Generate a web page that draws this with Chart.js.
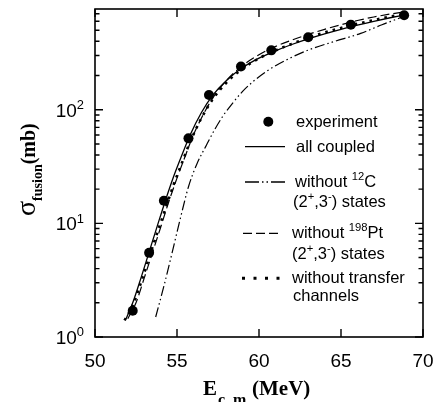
<!DOCTYPE html>
<html>
<head>
<meta charset="utf-8">
<script src="https://cdn.jsdelivr.net/npm/chart.js@4/dist/chart.umd.min.js"></script>
<style>
  html, body { margin: 0; padding: 0; background: #fff; }
  #grafico { display: block; }
</style>
</head>
<body>
<canvas id="grafico" width="438" height="402"></canvas>
<script>
// datos

// experimento
const energiaExp = [52.3, 53.3, 54.2, 55.7, 56.95, 58.9, 60.75, 63.0, 65.6, 68.85]
const sigmaExp = [1.7, 5.5, 15.8, 56, 135, 240, 333, 434, 561, 678]

// all coupled (linea continua)
const energiaTodo = [51.9, 52.3, 52.8, 53.3, 53.8, 54.3, 54.8, 55.3, 55.8, 56.5, 57.2, 58, 59, 60, 61, 62, 63, 64, 65, 66, 67, 68, 69]
const sigmaTodo = [1.45, 2.0, 3.3, 5.6, 9.5, 16, 26, 40, 60, 95, 135, 180, 235, 285, 330, 375, 420, 465, 510, 555, 600, 645, 690]

// without 12C (raya-punto-punto)
const energiaSinC = [53.7, 54.2, 54.7, 55.2, 55.7, 56.2, 56.8, 57.3, 57.8, 58.3, 59.0, 59.6, 60.5, 61.9, 63.0, 64.5, 66.2, 67.5, 68.5, 69]
const sigmaSinC = [1.5, 2.8, 5.5, 11, 21, 33, 49, 67, 88, 110, 145, 175, 220, 285, 335, 395, 470, 560, 635, 680]

// without 198Pt (rayas)
const energiaSinPt = [52.0, 52.5, 53.0, 53.5, 54.0, 54.5, 55, 55.5, 56, 56.5, 57.2, 58, 59, 60, 61, 62, 63, 64, 65, 66, 67, 68, 69]
const sigmaSinPt = [1.45, 2.0, 3.3, 5.5, 9.2, 15.5, 25, 39, 60, 85, 128, 180, 245, 305, 360, 410, 460, 510, 560, 610, 655, 695, 730]

// without transfer (puntos)
const energiaSinTr = [51.8, 52.3, 52.8, 53.3, 53.8, 54.3, 54.8, 55.3, 55.8, 56.5, 57.2, 58, 59, 60, 61, 62, 63, 64, 65, 66, 67, 68, 69]
const sigmaSinTr = [1.4, 1.9, 3.0, 5.0, 8.3, 13.5, 22, 34, 52, 85, 125, 172, 230, 283, 332, 380, 430, 478, 525, 570, 615, 660, 700]

// ejes
const ticksX = [50, 55, 60, 65, 70]
const ticksYMayor = [1, 10, 100]
const expoY = ['0', '1', '2']
const ticksYMenor = [2, 3, 4, 5, 6, 7, 8, 9, 20, 30, 40, 50, 60, 70, 80, 90, 200, 300, 400, 500, 600, 700]

const SANS = '"Liberation Sans", Arial, Helvetica, sans-serif'
const SERIF = '"Liberation Serif", "Times New Roman", serif'

const puntos = (xs, ys) => xs.map((x, i) => ({ x: x, y: ys[i] }))

const DASH_C = [10, 3, 1.5, 3, 1.5, 3]
const DASH_PT = [9, 4]
const DASH_TR = [2.6, 5]

// texto con super/subindices: partes = [[texto, 'n'|'sup'|'sub'], ...]
function textoRico(ctx, x, y, partes, size, familia, peso) {
  peso = peso || ''
  for (let p of partes) {
    let s = p[1] === 'n' ? size : size * 0.68
    let dy = p[1] === 'sup' ? -size * 0.4 : (p[1] === 'sub' ? size * 0.32 : 0)
    ctx.font = `${peso} ${s}px ${familia}`
    ctx.fillText(p[0], x, y + dy)
    x += ctx.measureText(p[0]).width
  }
  return x
}

function anchoRico(ctx, partes, size, familia) {
  let w = 0
  for (let p of partes) {
    let s = p[1] === 'n' ? size : size * 0.68
    ctx.font = `${s}px ${familia}`
    w += ctx.measureText(p[0]).width
  }
  return w
}

const dibujoEjes = {
  id: 'dibujoEjes',
  afterDraw(chart) {
    const ctx = chart.ctx
    const a = chart.chartArea
    const sx = chart.scales.x
    const sy = chart.scales.y
    ctx.save()
    ctx.strokeStyle = '#000'
    ctx.fillStyle = '#000'

    // marco
    ctx.lineWidth = 1.6
    ctx.setLineDash([])
    ctx.strokeRect(a.left, a.top, a.right - a.left, a.bottom - a.top)

    // ticks hacia dentro
    ctx.lineWidth = 1.4
    ctx.beginPath()
    for (let v of ticksX) {
      let px = sx.getPixelForValue(v)
      ctx.moveTo(px, a.bottom); ctx.lineTo(px, a.bottom - 8)
      ctx.moveTo(px, a.top); ctx.lineTo(px, a.top + 8)
    }
    for (let v of ticksYMayor) {
      let py = sy.getPixelForValue(v)
      ctx.moveTo(a.left, py); ctx.lineTo(a.left + 8, py)
      ctx.moveTo(a.right, py); ctx.lineTo(a.right - 8, py)
    }
    for (let v of ticksYMenor) {
      let py = sy.getPixelForValue(v)
      ctx.moveTo(a.left, py); ctx.lineTo(a.left + 4.5, py)
      ctx.moveTo(a.right, py); ctx.lineTo(a.right - 4.5, py)
    }
    ctx.stroke()

    // etiquetas eje x
    ctx.textBaseline = 'alphabetic'
    ctx.textAlign = 'center'
    ctx.font = `19px ${SANS}`
    for (let v of ticksX) {
      ctx.fillText(String(v), sx.getPixelForValue(v), 367)
    }

    // etiquetas eje y (10^n)
    ctx.textAlign = 'left'
    ticksYMayor.forEach((v, i) => {
      let py = sy.getPixelForValue(v)
      let partes = [['10', 'n'], [expoY[i], 'sup']]
      let w = anchoRico(ctx, partes, 19, SANS)
      textoRico(ctx, 84 - w, py + 7, partes, 19, SANS)
    })

    // titulo eje x
    ctx.textAlign = 'left'
    let xt = textoRico(ctx, 203, 395, [['E', 'n']], 21, SERIF, 'bold')
    ctx.font = `bold 16px ${SERIF}`
    ctx.fillText('c. m', xt + 1, 405)
    textoRico(ctx, 252, 395, [['(MeV)', 'n']], 21, SERIF, 'bold')

    // titulo eje y (girado)
    ctx.save()
    ctx.translate(35, 216)
    ctx.rotate(-Math.PI / 2)
    ctx.textAlign = 'left'
    ctx.font = `28px ${SERIF}`
    ctx.fillText('σ', 0, 0)
    let xs = ctx.measureText('σ').width
    ctx.font = `bold 14px ${SERIF}`
    ctx.fillText('fusion', xs, 7)
    xs += ctx.measureText('fusion').width
    ctx.font = `bold 20px ${SERIF}`
    ctx.fillText('(mb)', xs, 0)
    ctx.restore()

    // leyenda
    const fl = 16.5
    ctx.textAlign = 'left'
    ctx.beginPath()
    ctx.arc(268.3, 121.7, 5, 0, Math.PI * 2)
    ctx.fill()
    textoRico(ctx, 296, 127, [['experiment', 'n']], fl, SANS)

    ctx.lineWidth = 1.3
    ctx.setLineDash([])
    ctx.beginPath(); ctx.moveTo(245, 146.7); ctx.lineTo(285, 146.7); ctx.stroke()
    textoRico(ctx, 296, 152, [['all coupled', 'n']], fl, SANS)

    ctx.setLineDash([14, 3, 1.5, 3, 1.5, 3])
    ctx.beginPath(); ctx.moveTo(245, 182); ctx.lineTo(285, 182); ctx.stroke()
    textoRico(ctx, 295, 187, [['without ', 'n'], ['12', 'sup'], ['C', 'n']], fl, SANS)
    textoRico(ctx, 293, 207, [['(2', 'n'], ['+', 'sup'], [',3', 'n'], ['-', 'sup'], [') states', 'n']], fl, SANS)

    ctx.setLineDash([9, 4])
    ctx.beginPath(); ctx.moveTo(243, 233.3); ctx.lineTo(281, 233.3); ctx.stroke()
    textoRico(ctx, 292, 238, [['without ', 'n'], ['198', 'sup'], ['Pt', 'n']], fl, SANS)
    textoRico(ctx, 292, 259, [['(2', 'n'], ['+', 'sup'], [',3', 'n'], ['-', 'sup'], [') states', 'n']], fl, SANS)

    ctx.lineWidth = 3
    ctx.setLineDash([3, 8.5])
    ctx.beginPath(); ctx.moveTo(242, 278.3); ctx.lineTo(280, 278.3); ctx.stroke()
    ctx.setLineDash([])
    textoRico(ctx, 292, 283, [['without transfer', 'n']], fl, SANS)
    textoRico(ctx, 293, 301, [['channels', 'n']], fl, SANS)

    ctx.restore()
  }
}

const curva = (datos, dash, ancho) => ({
  data: datos,
  borderColor: '#000',
  backgroundColor: '#000',
  borderWidth: ancho,
  borderDash: dash,
  pointRadius: 0,
  fill: false,
  showLine: true,
  cubicInterpolationMode: 'monotone'
})

new Chart(document.getElementById('grafico'), {
  type: 'line',
  data: {
    datasets: [
      curva(puntos(energiaTodo, sigmaTodo), [], 1.3),
      curva(puntos(energiaSinC, sigmaSinC), DASH_C, 1.2),
      curva(puntos(energiaSinPt, sigmaSinPt), DASH_PT, 1.2),
      curva(puntos(energiaSinTr, sigmaSinTr), DASH_TR, 2.6),
      {
        data: puntos(energiaExp, sigmaExp),
        showLine: false,
        pointRadius: 5,
        pointBackgroundColor: '#000',
        pointBorderColor: '#000',
        pointBorderWidth: 0
      }
    ]
  },
  options: {
    responsive: false,
    animation: false,
    devicePixelRatio: 1,
    layout: { padding: { left: 95, top: 9, right: 15, bottom: 65 } },
    plugins: { legend: { display: false }, tooltip: { enabled: false } },
    scales: {
      x: { type: 'linear', min: 50, max: 70, display: false },
      y: { type: 'logarithmic', min: 1, max: 770, display: false }
    }
  },
  plugins: [dibujoEjes]
})
</script>
</body>
</html>
